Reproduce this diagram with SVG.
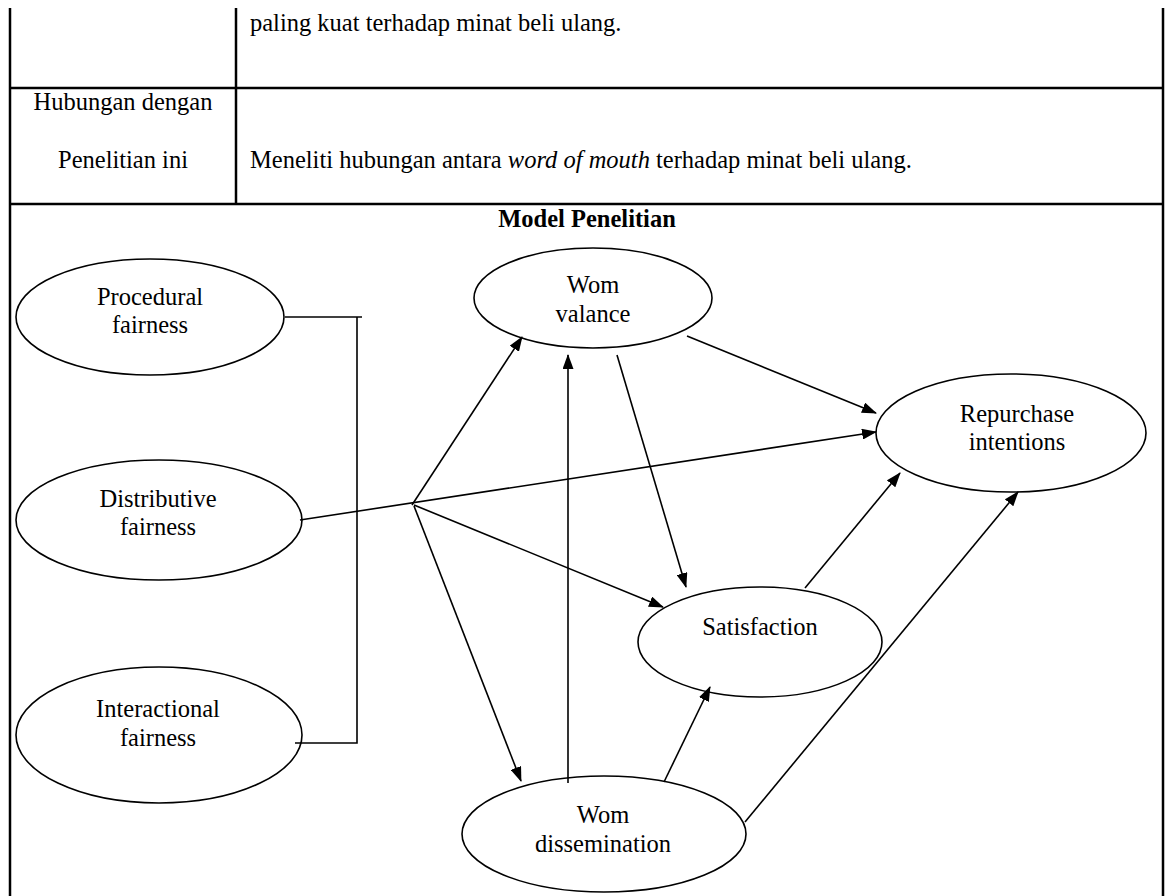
<svg xmlns="http://www.w3.org/2000/svg" width="1165" height="896" viewBox="0 0 1165 896">
  <style>
    .grid { stroke: #000; stroke-width: 2.5; fill: none; }
    .txt { font-family: "Liberation Serif", "Times New Roman", serif; font-size: 24.5px; fill: #000; }
    .mid { text-anchor: middle; }
    .node ellipse { fill: none; stroke: #000; stroke-width: 1.6; }
    .wire { stroke: #000; stroke-width: 1.6; fill: none; }
    .arrow { stroke: #000; stroke-width: 1.6; fill: none; marker-end: url(#head); }
  </style>
  <defs>
    <marker id="head" markerWidth="15" markerHeight="11" refX="14" refY="5.5" orient="auto" markerUnits="userSpaceOnUse">
      <path d="M0,0 L15,5.5 L0,11 Z" fill="#000"/>
    </marker>
  </defs>
  <rect width="1165" height="896" fill="#fff"/>

  <!-- table frame -->
  <g id="table">
    <line class="grid" x1="10" y1="8" x2="10" y2="896"/>
    <line class="grid" x1="1163" y1="8" x2="1163" y2="896"/>
    <line class="grid" x1="236" y1="8" x2="236" y2="204"/>
    <line class="grid" x1="10" y1="88" x2="1163" y2="88"/>
    <line class="grid" x1="10" y1="204" x2="1163" y2="204"/>
    <text class="txt" x="250" y="31">paling kuat terhadap minat beli ulang.</text>
    <text class="txt mid" x="123" y="110">Hubungan dengan</text>
    <text class="txt mid" x="123" y="168">Penelitian ini</text>
    <text class="txt" x="250" y="168">Meneliti hubungan antara <tspan font-style="italic">word of mouth</tspan> terhadap minat beli ulang.</text>
    <text class="txt mid" x="587" y="227" font-weight="bold">Model Penelitian</text>
  </g>

  <!-- connectors -->
  <g id="connectors">
    <polyline class="wire" points="285,317 362,317"/>
    <polyline class="wire" points="357,317 357,743 295,743"/>
    <line class="arrow" x1="300" y1="520" x2="876" y2="432"/>
    <line class="arrow" x1="412" y1="505" x2="522" y2="337"/>
    <line class="arrow" x1="414" y1="505" x2="663" y2="607"/>
    <line class="arrow" x1="414" y1="506" x2="521" y2="781"/>
    <line class="arrow" x1="687" y1="336" x2="876" y2="413"/>
    <line class="arrow" x1="617" y1="355" x2="686" y2="587"/>
    <line class="arrow" x1="805" y1="588" x2="900" y2="473"/>
    <line class="arrow" x1="664" y1="782" x2="710" y2="687"/>
    <line class="arrow" x1="745" y1="822" x2="1018" y2="492"/>
    <line class="arrow" x1="568" y1="783" x2="568" y2="355"/>
  </g>

  <g id="procedural" class="node">
    <ellipse cx="150" cy="317" rx="134" ry="58"/>
    <text class="txt mid" x="150" y="305">Procedural</text>
    <text class="txt mid" x="150" y="333">fairness</text>
  </g>
  <g id="distributive" class="node">
    <ellipse cx="159" cy="520" rx="143" ry="60"/>
    <text class="txt mid" x="158" y="507">Distributive</text>
    <text class="txt mid" x="158" y="535">fairness</text>
  </g>
  <g id="interactional" class="node">
    <ellipse cx="159" cy="735" rx="143" ry="68"/>
    <text class="txt mid" x="158" y="717">Interactional</text>
    <text class="txt mid" x="158" y="746">fairness</text>
  </g>
  <g id="wom-valance" class="node">
    <ellipse cx="593" cy="298" rx="119" ry="50"/>
    <text class="txt mid" x="593" y="293">Wom</text>
    <text class="txt mid" x="593" y="322">valance</text>
  </g>
  <g id="repurchase" class="node">
    <ellipse cx="1011" cy="433" rx="135" ry="59"/>
    <text class="txt mid" x="1017" y="422">Repurchase</text>
    <text class="txt mid" x="1017" y="450">intentions</text>
  </g>
  <g id="satisfaction" class="node">
    <ellipse cx="760" cy="642" rx="122" ry="55"/>
    <text class="txt mid" x="760" y="635">Satisfaction</text>
  </g>
  <g id="wom-dissemination" class="node">
    <ellipse cx="604" cy="834" rx="142" ry="58"/>
    <text class="txt mid" x="603" y="823">Wom</text>
    <text class="txt mid" x="603" y="852">dissemination</text>
  </g>
</svg>
